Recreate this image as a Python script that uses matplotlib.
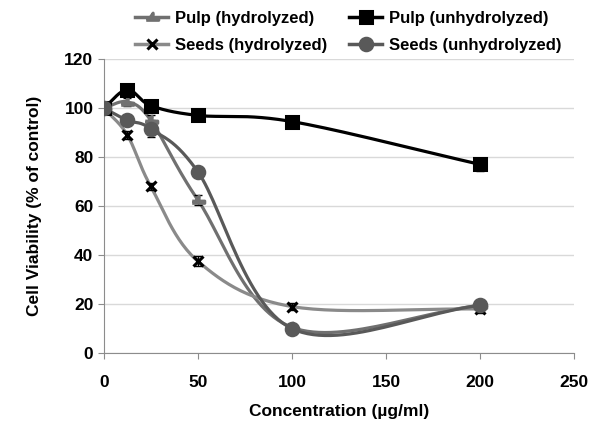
import numpy as np
import matplotlib
matplotlib.use('Agg')
import matplotlib.pyplot as plt

plt.rcParams['font.family'] = ['Liberation Sans', 'DejaVu Sans']
plt.rcParams['font.weight'] = 'bold'

# Data
conc = [0, 12.5, 25, 50, 100, 200]
pulp_hyd = [100, 102.5, 95, 62.5, 10.5, 19.5]
pulp_unhyd = [100, 107.5, 101, 97, 94.5, 77]
seeds_hyd = [100, 89, 68, 37.5, 19, 18]
seeds_unhyd = [100, 95, 91.5, 74, 10, 19.5]

pulp_hyd_err = [0, 1.5, 2, 2, 1, 1]
pulp_unhyd_err = [0, 1, 1.5, 1, 1, 2.5]
seeds_hyd_err = [0, 1.5, 1.5, 2, 1.5, 1.5]
seeds_unhyd_err = [0, 1.5, 3.5, 2, 1, 1]


def smooth(x, y, n=30):
    # Catmull-Rom style smoothing, like the spreadsheet "smoothed line"
    x = np.asarray(x, float)
    y = np.asarray(y, float)
    px = np.concatenate([[2 * x[0] - x[1]], x, [2 * x[-1] - x[-2]]])
    py = np.concatenate([[2 * y[0] - y[1]], y, [2 * y[-1] - y[-2]]])
    xs, ys = [], []
    t = np.linspace(0, 1, n)
    for i in range(1, len(px) - 2):
        for p, out in ((px, xs), (py, ys)):
            p0, p1, p2, p3 = p[i - 1], p[i], p[i + 1], p[i + 2]
            out.extend(0.5 * (2 * p1 + (-p0 + p2) * t
                              + (2 * p0 - 5 * p1 + 4 * p2 - p3) * t ** 2
                              + (-p0 + 3 * p1 - 3 * p2 + p3) * t ** 3))
    return np.array(xs), np.array(ys)


flag = [(-1, -0.45), (1, -0.45), (1, -0.1), (0.1, -0.1), (0.1, 0.7),
        (-0.3, 0.1), (-0.3, -0.1), (-1, -0.1)]

fig = plt.figure(figsize=(6, 4.28), dpi=100)
ax = fig.add_axes([0.173, 0.175, 0.784, 0.687])

series = [
    ('Pulp (hydrolyzed)', pulp_hyd, pulp_hyd_err, '#707070', flag, 9, '#707070'),
    ('Seeds (hydrolyzed)', seeds_hyd, seeds_hyd_err, '#8a8a8a', 'x', 7, 'black'),
    ('Pulp (unhydrolyzed)', pulp_unhyd, pulp_unhyd_err, 'black', 's', 9, 'black'),
    ('Seeds (unhydrolyzed)', seeds_unhyd, seeds_unhyd_err, '#595959', 'o', 9, '#595959'),
]

handles = []
for label, vals, err, col, mk, ms, mc in series:
    sx, sy = smooth(conc, vals)
    ax.plot(sx, sy, color=col, lw=2.3, zorder=2)
    ax.errorbar(conc, vals, yerr=err, fmt='none', ecolor='black', elinewidth=1,
                capsize=3, zorder=3)
    ax.plot(conc, vals, ls='none', marker=mk, ms=ms, color=mc,
            mec=mc, mew=2.2, zorder=4)
    h, = ax.plot([], [], color=col, lw=2.5, marker=mk, ms=ms, mfc=mc,
                 mec=mc, mew=2.2, label=label)
    handles.append(h)

ax.set_xlim(0, 250)
ax.set_ylim(0, 120)
ax.set_xticks([0, 50, 100, 150, 200, 250])
ax.set_yticks(range(0, 121, 20))
ax.yaxis.grid(True, color='#d9d9d9', lw=1)
ax.set_axisbelow(True)
for s in ['top', 'right']:
    ax.spines[s].set_visible(False)
for s in ['left', 'bottom']:
    ax.spines[s].set_color('#8c8c8c')
ax.tick_params(axis='both', colors='#8c8c8c', labelcolor='black',
               labelsize=12.5, direction='out', length=4)
for lbl in ax.get_xticklabels() + ax.get_yticklabels():
    lbl.set_fontweight('bold')
ax.xaxis.set_tick_params(pad=12)

ax.set_xlabel('Concentration (µg/ml)', fontsize=12.5, fontweight='bold', labelpad=10)
ax.set_ylabel('Cell Viability (% of control)', fontsize=12.5, fontweight='bold',
              labelpad=16)

fig.legend(handles=handles, ncol=2, loc='upper left', bbox_to_anchor=(0.2, 1.01),
           frameon=False, handlelength=2.0, columnspacing=1.3,
           labelspacing=0.75, handletextpad=0.4, prop={'weight': 'bold', 'size': 12})

fig.savefig('out.png', dpi=100)
